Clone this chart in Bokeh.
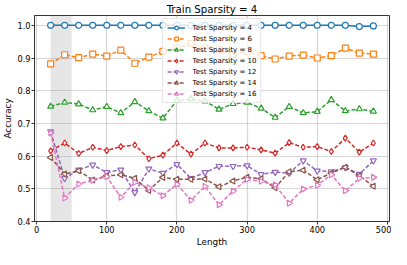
import numpy as np
from bokeh.plotting import figure
from bokeh.models import BoxAnnotation, FixedTicker, Legend, LegendItem, Range1d
from bokeh.embed import file_html
from bokeh.resources import INLINE

lengths = [20, 40, 60, 80, 100, 120, 140, 160, 180, 200, 220, 240,
           260, 280, 300, 320, 340, 360, 380, 400, 420, 440, 460, 480]

ts4 = [1.0, 1.0, 1.0, 1.0, 1.0, 1.0, 1.0, 1.0, 1.0, 1.0, 1.0, 1.0,
       1.0, 1.0, 1.0, 1.0, 1.0, 1.0, 1.0, 1.0, 1.0, 1.0, 0.996, 0.998]
ts6 = [0.882, 0.910, 0.901, 0.912, 0.906, 0.924, 0.884, 0.903, 0.920, 0.930, 0.945, 0.930,
       0.925, 0.910, 0.920, 0.907, 0.897, 0.906, 0.909, 0.900, 0.907, 0.930, 0.915, 0.912]
ts8 = [0.752, 0.764, 0.759, 0.741, 0.751, 0.732, 0.766, 0.738, 0.716, 0.770, 0.775, 0.768,
       0.743, 0.760, 0.764, 0.746, 0.718, 0.751, 0.732, 0.736, 0.772, 0.738, 0.744, 0.737]
ts10 = [0.616, 0.640, 0.608, 0.627, 0.617, 0.629, 0.634, 0.592, 0.603, 0.640, 0.606, 0.640,
        0.625, 0.625, 0.627, 0.619, 0.609, 0.641, 0.627, 0.629, 0.614, 0.655, 0.612, 0.640]
ts12 = [0.675, 0.532, 0.558, 0.573, 0.550, 0.558, 0.489, 0.561, 0.548, 0.575, 0.532, 0.550,
        0.569, 0.569, 0.571, 0.544, 0.551, 0.548, 0.586, 0.555, 0.553, 0.565, 0.545, 0.586]
ts14 = [0.596, 0.545, 0.555, 0.527, 0.540, 0.543, 0.532, 0.495, 0.535, 0.529, 0.529, 0.530,
        0.506, 0.524, 0.535, 0.531, 0.503, 0.552, 0.557, 0.528, 0.548, 0.566, 0.540, 0.508]
ts16 = [0.671, 0.472, 0.515, 0.526, 0.537, 0.474, 0.520, 0.503, 0.479, 0.514, 0.465, 0.507,
        0.451, 0.493, 0.529, 0.523, 0.512, 0.456, 0.499, 0.511, 0.543, 0.494, 0.532, 0.535]

labels = ["Test Sparsity = 4", "Test Sparsity = 6", "Test Sparsity = 8",
          "Test Sparsity = 10", "Test Sparsity = 12", "Test Sparsity = 14",
          "Test Sparsity = 16"]
series = [ts4, ts6, ts8, ts10, ts12, ts14, ts16]
colors = ["#1f77b4", "#ff7f0e", "#2ca02c", "#d62728", "#9467bd", "#8c564b", "#e377c2"]
markers = ["circle", "square", "triangle", "diamond", "inverted_triangle", "triangle", "triangle"]
angles = [0, 0, 0, 0, 0, np.pi / 2, -np.pi / 2]
dashes = ["solid", "4 2", "4 2", "4 2", "4 2", "4 2", "4 2"]

x_ticks = [0, 100, 200, 300, 400, 500]
y_ticks = [0.4, 0.5, 0.6, 0.7, 0.8, 0.9, 1.0]
shade_start, shade_end = 20, 50

FONT = "DejaVu Sans"

p = figure(width=391, height=249, output_backend="svg", toolbar_location=None,
           x_range=Range1d(-3, 503), y_range=Range1d(0.4, 1.03),
           title="Train Sparsity = 4", x_axis_label="Length", y_axis_label="Accuracy",
           min_border_left=0, min_border_right=2, min_border_top=1, min_border_bottom=0)

p.title.align = "center"
p.title.text_font = FONT
p.title.text_font_size = "10.2px"
p.title.text_font_style = "normal"
p.title.text_color = "#000000"
p.title.offset = 0
p.title.standoff = 2

p.background_fill_color = "white"
p.border_fill_color = "white"
p.outline_line_color = "#333333"
p.outline_line_width = 1

for ax in (p.xaxis[0], p.yaxis[0]):
    ax.axis_label_text_font = FONT
    ax.axis_label_text_font_size = "8.8px"
    ax.axis_label_text_font_style = "normal"
    ax.axis_label_text_color = "#000000"
    ax.major_label_text_font = FONT
    ax.major_label_text_font_size = "8.2px"
    ax.major_label_text_color = "#000000"
    ax.major_tick_out = 3
    ax.major_tick_in = 0
    ax.minor_tick_out = 0
    ax.minor_tick_in = 0
    ax.major_tick_line_color = "#333333"
    ax.axis_line_color = "#333333"
    ax.axis_label_standoff = 1
    ax.major_label_standoff = 1

p.xaxis[0].ticker = FixedTicker(ticks=x_ticks)
p.yaxis[0].ticker = FixedTicker(ticks=y_ticks)
p.yaxis[0].major_label_overrides = {v: f"{v:.1f}" for v in y_ticks}

p.xgrid.grid_line_color = "#b0b0b0"
p.ygrid.grid_line_color = "#b0b0b0"
p.xgrid.grid_line_alpha = 0.5
p.ygrid.grid_line_alpha = 0.5
p.xgrid.grid_line_width = 1.2
p.ygrid.grid_line_width = 1.2

p.add_layout(BoxAnnotation(left=shade_start, right=shade_end, fill_color="#808080",
                           fill_alpha=0.2, line_color=None, level="underlay"))

items = []
for lab, ys, c, m, a, d in zip(labels, series, colors, markers, angles, dashes):
    r1 = p.line(lengths, ys, line_color=c, line_width=1.5, line_dash=d)
    r2 = p.scatter(lengths, ys, marker=m, angle=a, size=6, fill_color="white",
                   line_color=c, line_width=1.2)
    items.append(LegendItem(label=lab, renderers=[r1, r2]))

legend = Legend(items=items, location="top_center")
legend.label_text_font = FONT
legend.label_text_font_size = "7px"
legend.label_text_color = "#000000"
legend.glyph_width = 18
legend.glyph_height = 9
legend.label_height = 9
legend.label_standoff = 8
legend.spacing = 2
legend.padding = 4
legend.margin = 3
legend.border_line_color = "#cccccc"
legend.border_line_width = 1
legend.background_fill_alpha = 0.8
p.add_layout(legend, "center")

open("out.html", "w").write(file_html(p, INLINE))
